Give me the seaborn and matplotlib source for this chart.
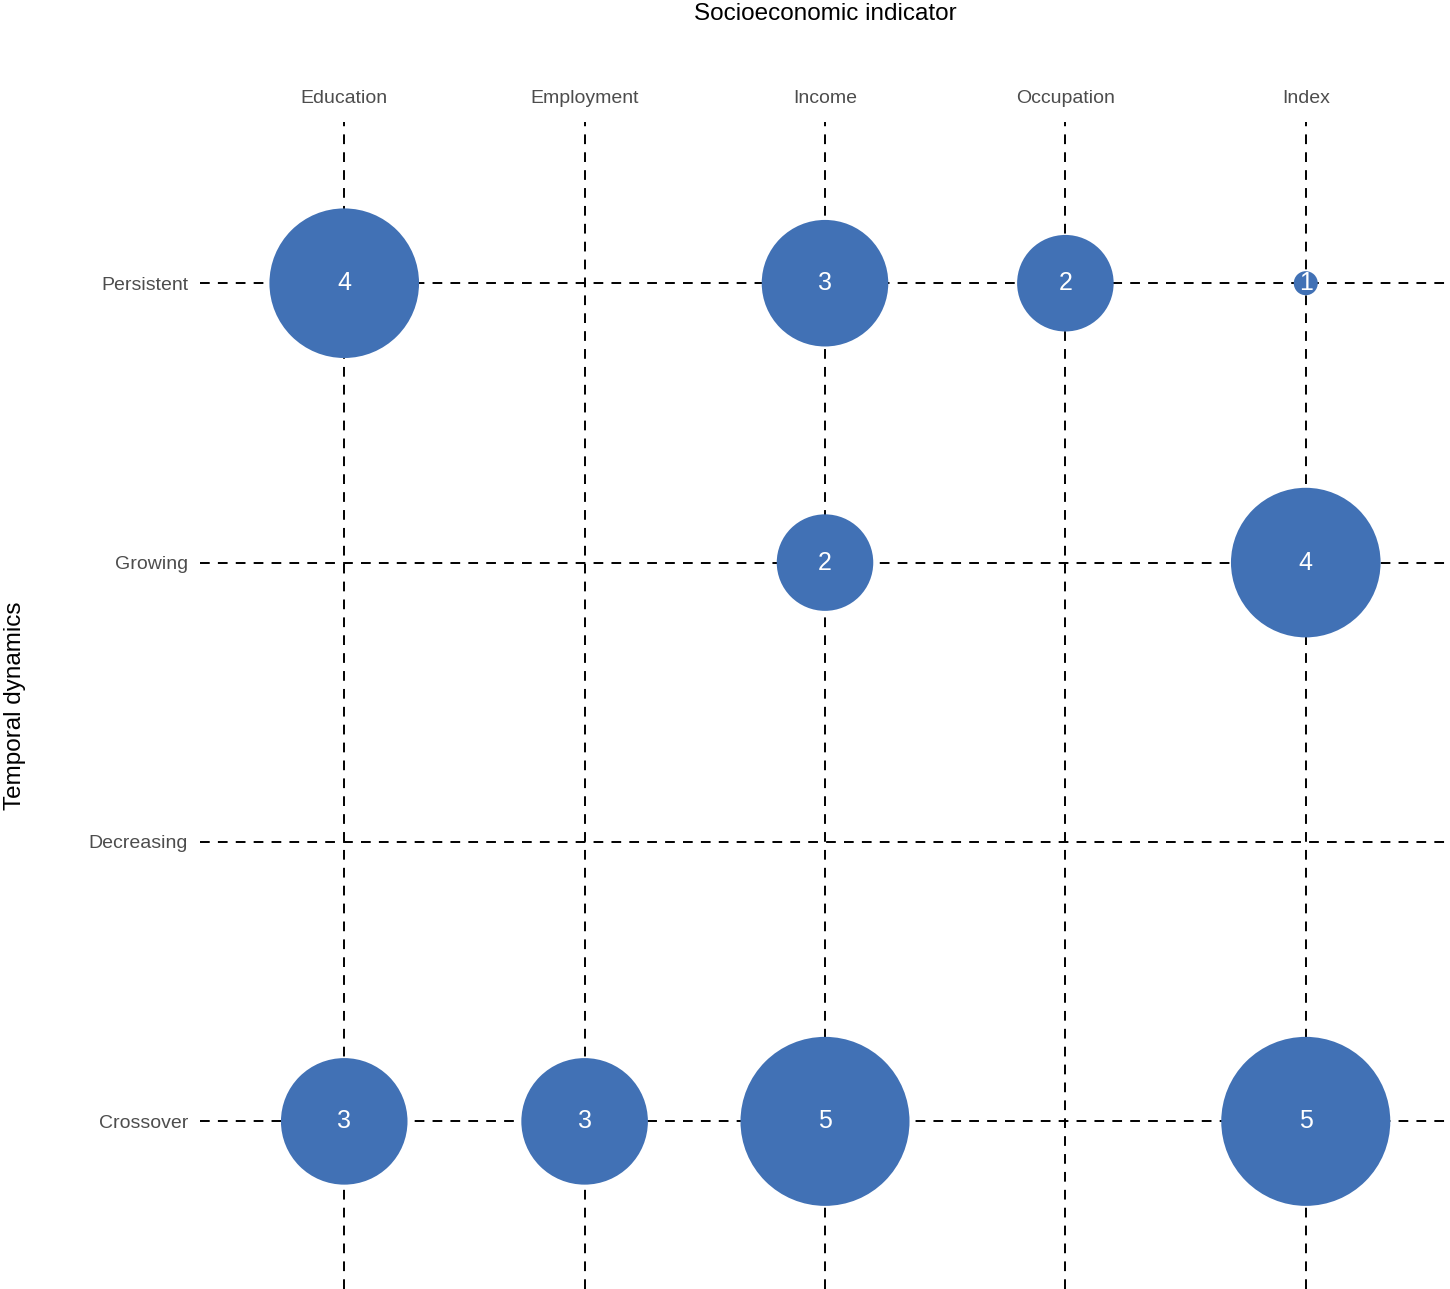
import numpy as np
import pandas as pd
import matplotlib
matplotlib.use('Agg')
import matplotlib.pyplot as plt
import seaborn as sns

# данные
indicators = ['Education', 'Employment', 'Income', 'Occupation', 'Index']
dynamics = ['Persistent', 'Growing', 'Decreasing', 'Crossover']

point_indicator = ['Education', 'Income', 'Occupation', 'Index',
                   'Income', 'Index',
                   'Education', 'Employment', 'Income', 'Index']
point_dynamic = ['Persistent', 'Persistent', 'Persistent', 'Persistent',
                 'Growing', 'Growing',
                 'Crossover', 'Crossover', 'Crossover', 'Crossover']
point_count = [4, 3, 2, 1,
               2, 4,
               3, 3, 5, 5]

df = pd.DataFrame({'indicator': point_indicator,
                   'dynamic': point_dynamic,
                   'n': point_count})
df['x'] = df.indicator.map(indicators.index)
df['y'] = df.dynamic.map(dynamics.index)

# размеры кружков как в ggplot scale_size (диаметр ~ sqrt)
d_min, d_max = 17.3, 121.7
vmin, vmax = df.n.min(), df.n.max()
sizes = {v: (d_min + (d_max - d_min) * np.sqrt((v - vmin) / (vmax - vmin))) ** 2
         for v in sorted(df.n.unique())}

sns.set_style('white')
plt.rcParams['font.family'] = ['Liberation Sans', 'DejaVu Sans']

fig = plt.figure(figsize=(14.5, 12.89), dpi=100)
ax = fig.add_axes([200 / 1450, 0, 1 - 200 / 1450, 1 - 122 / 1289])

ax.set_axisbelow(True)
ax.grid(True, color='black', linestyle=(0, (5.0, 4.2)), linewidth=1.4)

sns.scatterplot(data=df, x='x', y='y', size='n', sizes=sizes,
                color='#4171B5', edgecolor='none', alpha=1, legend=False,
                ax=ax, zorder=3)

for _, r in df.iterrows():
    ax.text(r.x, r.y, str(r.n), color='white', fontsize=18,
            ha='center', va='center', zorder=4)

ax.set_xlim(-0.6, 4.6)
ax.set_ylim(3.6, -0.577)
ax.set_xticks(range(len(indicators)))
ax.set_xticklabels(indicators)
ax.set_yticks(range(len(dynamics)))
ax.set_yticklabels(dynamics)
ax.xaxis.tick_top()
ax.xaxis.set_label_position('top')
ax.tick_params(length=0, labelsize=14, labelcolor='#4D4D4D')
ax.tick_params(axis='x', pad=11)
ax.tick_params(axis='y', pad=8.5)
for s in ax.spines.values():
    s.set_visible(False)

ax.set_xlabel('Socioeconomic indicator', fontsize=17.5, color='black', labelpad=50)
ax.set_ylabel('Temporal dynamics', fontsize=17.5, color='black', labelpad=45)

fig.savefig('out.png', dpi=100)
